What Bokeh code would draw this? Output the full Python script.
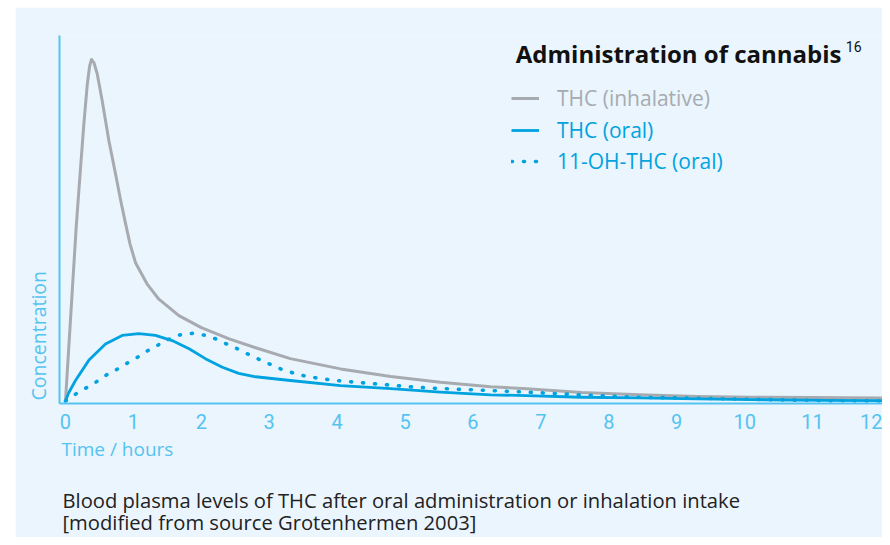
from bokeh.plotting import figure
from bokeh.models import Label, Legend, LegendItem, Range1d, FixedTicker, Spacer, Title
from bokeh.layouts import column, row
from bokeh.embed import file_html
from bokeh.resources import INLINE

# ---- data ----
t_inh = [0, 0.158, 0.221, 0.27, 0.32, 0.355, 0.383, 0.42, 0.467, 0.54, 0.638, 0.736, 0.81, 0.884, 0.95, 1.031, 1.2, 1.375,
         1.67, 2.0, 2.41, 2.8, 3.31, 4.05, 4.79, 5.52, 6.26, 6.79, 7.6, 8.45, 9.3, 10.1, 11.0, 12.1]
c_inh = [0, 51, 68, 81, 92.5, 98, 100, 99, 95.8, 88, 76.3, 66.6, 59, 52, 46, 40.5, 34.3, 29.8,
         25.0, 21.5, 18.2, 15.6, 12.4, 9.4, 7.2, 5.5, 4.2, 3.6, 2.5, 1.8, 1.3, 1.1, 1.0, 0.9]

t_oral = [0, 0.05, 0.147, 0.343, 0.589, 0.835, 1.08, 1.325, 1.57, 1.82, 2.06, 2.31, 2.55, 2.8, 3.31, 4.05, 4.79, 5.52,
          6.26, 6.79, 7.6, 8.45, 9.3, 10.1, 11.2, 12.1]
c_oral = [0, 2.5, 6.0, 11.9, 16.7, 19.2, 19.7, 19.2, 17.7, 15.3, 12.4, 9.9, 8.1, 7.1, 6.0, 4.5, 3.6, 2.6,
          1.8, 1.6, 1.1, 0.9, 0.6, 0.4, 0.2, 0.1]

t_oh = [0, 0.17, 0.32, 0.47, 0.61, 0.76, 0.91, 1.06, 1.2, 1.33, 1.5, 1.67, 1.87, 2.04, 2.21, 2.37, 2.54, 2.7, 2.86,
        3.03, 3.19, 3.34, 3.51, 3.68, 3.86, 4.04, 4.4, 4.76, 5.12, 5.47, 5.83, 6.2, 6.79, 7.6, 8.45, 9.3, 10.1, 11.2, 12.1]
c_oh = [0, 2.3, 4.0, 5.8, 7.7, 9.3, 11.1, 12.8, 14.6, 16.0, 17.9, 19.3, 19.8, 19.3, 18.2, 16.7, 15.2, 13.6, 12.1,
        10.6, 9.2, 8.3, 7.4, 6.8, 6.3, 5.9, 5.3, 4.7, 4.1, 3.7, 3.4, 3.1, 2.6, 1.8, 1.1, 0.8, 0.5, 0.1, 0.0]

x_ticks = list(range(0, 13))
series_labels = ["THC (inhalative)", "THC (oral)", "11-OH-THC (oral)"]
legend_title = "Administration of cannabis"
legend_ref = "16"
x_label = "Time / hours"
y_label = "Concentration"
caption_1 = "Blood plasma levels of THC after oral administration or inhalation intake"
caption_2 = "[modified from source Grotenhermen 2003]"

# ---- style ----
BG = "#EAF5FE"
GRAY = "#A7ABB0"
BLUE = "#00A3E0"
AXIS = "#55C3F0"
FONT = "Roboto"
FONT_W = "Open Sans"

p = figure(width=867, height=530, output_backend="svg", toolbar_location=None,
           x_range=Range1d(-0.088, 12.03), y_range=Range1d(-0.73, 107.0),
           min_border_left=44, min_border_right=0, min_border_top=28, min_border_bottom=134)
p.background_fill_color = BG
p.border_fill_color = BG
p.outline_line_color = None
p.grid.visible = False

# axes
p.xaxis.ticker = FixedTicker(ticks=x_ticks)
p.xaxis.axis_line_color = AXIS
p.xaxis.axis_line_width = 2
p.xaxis.major_tick_line_color = None
p.xaxis.major_tick_out = 0
p.xaxis.minor_tick_line_color = None
p.xaxis.minor_tick_out = 0
p.xaxis.major_label_text_font = FONT
p.xaxis.major_label_text_font_size = "20px"
p.xaxis.major_label_text_color = AXIS
p.xaxis.major_label_standoff = 10

p.yaxis.ticker = FixedTicker(ticks=[])
p.yaxis.axis_line_color = AXIS
p.yaxis.axis_line_width = 2
p.yaxis.major_tick_line_color = None
p.yaxis.major_tick_out = 0
p.yaxis.minor_tick_line_color = None
p.yaxis.minor_tick_out = 0
p.yaxis.major_label_standoff = 0

# curves
r_inh = p.line(t_inh, c_inh, line_color=GRAY, line_width=3, line_join="round")
r_oral = p.line(t_oral, c_oral, line_color=BLUE, line_width=2.8, line_join="round")
r_oh = p.line(t_oh, c_oh, line_color=BLUE, line_width=3.6, line_dash="1 11", line_cap="round")

# legends (one per item so each label gets its own colour)
leg_pos = [(452, 291), (452, 259), (452, 228)]
leg_cols = [GRAY, BLUE, BLUE]
for r, lab, col, pos in zip([r_inh, r_oral, r_oh], series_labels, leg_cols, leg_pos):
    lg = Legend(items=[LegendItem(label=lab, renderers=[r])], location=pos,
                glyph_width=28, glyph_height=20, label_height=20, label_standoff=18,
                padding=0, margin=0, spacing=0,
                border_line_color=None, background_fill_alpha=0,
                label_text_font=FONT_W, label_text_font_size="21px", label_text_color=col)
    p.add_layout(lg, "center")

# texts inside the frame
p.add_layout(Label(x=6.63, y=101.8, text=legend_title, text_font=FONT_W, text_font_size="24px",
                   text_font_style="bold", text_color="#111111", text_baseline="middle"))
p.add_layout(Label(x=11.49, y=103.8, text=legend_ref, text_font=FONT, text_font_size="14px",
                   text_color="#111111", text_baseline="middle"))

# texts outside the frame, as titles
p.add_layout(Title(text=x_label, align="left", offset=2, standoff=4, text_font=FONT_W,
                   text_font_size="19px", text_color=AXIS, text_font_style="normal"), "below")
p.add_layout(Title(text=" ", align="left", offset=0, standoff=3, text_font=FONT_W,
                   text_font_size="10px", text_color=BG, text_font_style="normal"), "below")
p.add_layout(Title(text=caption_1 + "\n" + caption_2, align="left", offset=3, standoff=2.5, text_font=FONT_W,
                   text_font_size="20.2px", text_color="#222222", text_font_style="normal",
                   text_line_height=0.81), "below")
p.add_layout(Title(text=y_label, align="left", offset=3, standoff=15, text_font=FONT_W,
                   text_font_size="19.5px", text_color=AXIS, text_font_style="normal"), "left")

layout = column(Spacer(height=7), row(Spacer(width=15), p))
open("out.html", "w").write(file_html(layout, INLINE))
